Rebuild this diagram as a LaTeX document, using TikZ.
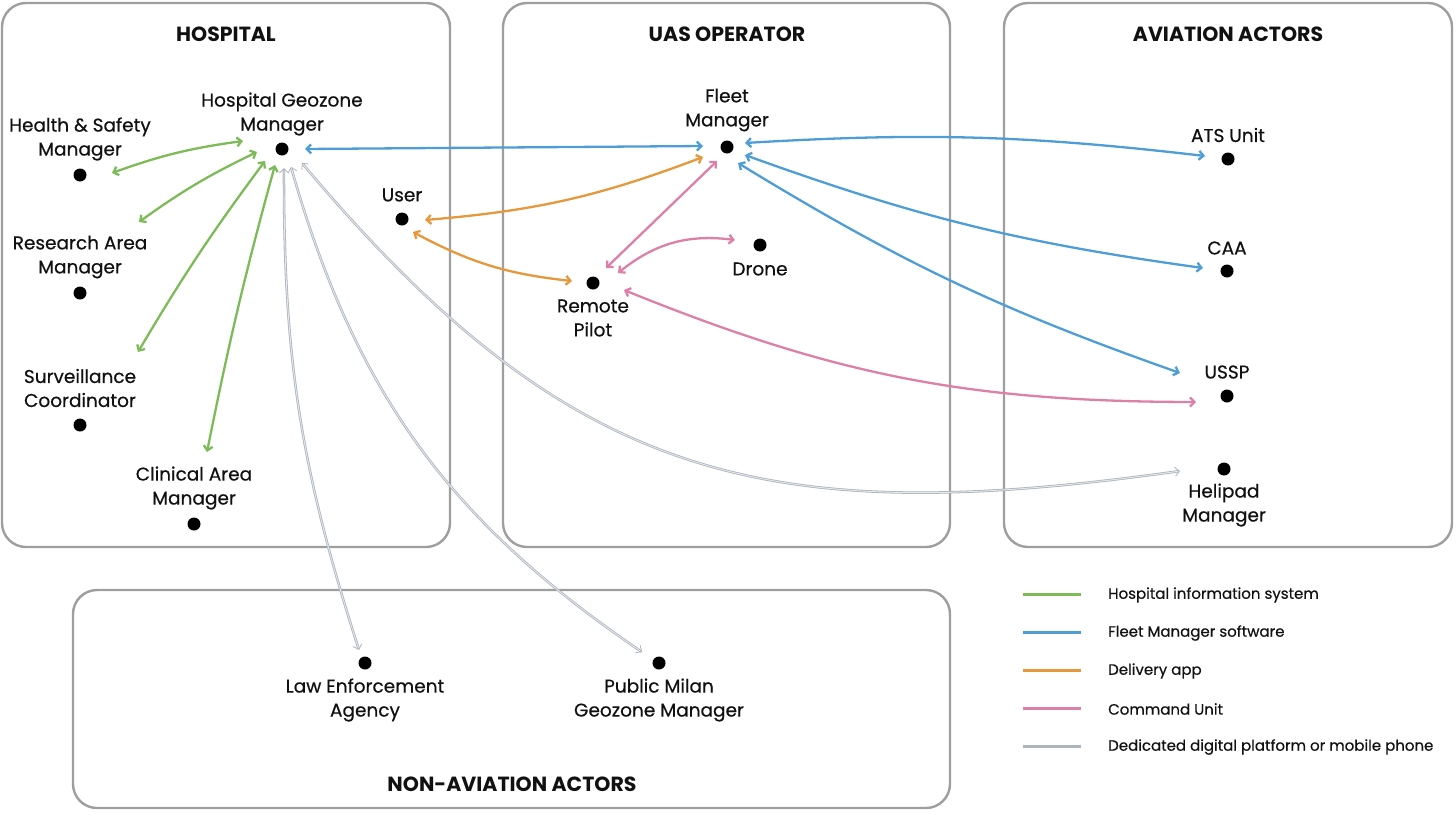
\documentclass[tikz,border=0pt]{standalone}
\usepackage{fontspec}
\setmainfont{Poppins}[UprightFeatures={FakeBold=0.5}]
\usetikzlibrary{arrows.meta,calc}
\definecolor{grn}{RGB}{124,187,88}
\definecolor{blu}{RGB}{78,157,214}
\definecolor{org}{RGB}{230,152,60}
\definecolor{pnk}{RGB}{221,128,168}
\definecolor{gry}{RGB}{172,180,188}
\definecolor{gryin}{RGB}{228,232,236}
\definecolor{boxc}{RGB}{158,158,158}
\definecolor{txt}{RGB}{17,17,17}
\begin{document}
\begin{tikzpicture}[x=1pt,y=1pt,
  box/.style={draw=boxc, line width=2.4pt, rounded corners=24pt},
  dot/.style={circle, fill=black, inner sep=0pt, minimum size=13pt},
  lbl/.style={font=\fontsize{18.5}{24}\selectfont, text=txt, align=center, inner sep=0pt},
  ttl/.style={font=\fontsize{20.5}{24}\selectfont\bfseries, text=txt, inner sep=0pt},
  lgd/.style={font=\fontsize{15}{17}\selectfont, text=txt, anchor=west, inner sep=0pt},
  tipb/.tip={Straight Barb[length=4.5pt,width=9pt]},
  conn/.style={line width=2.3pt, tipb-tipb},
  cg/.style={conn, draw=grn},
  cb/.style={conn, draw=blu},
  co/.style={conn, draw=org},
  cp/.style={conn, draw=pnk},
  cy/.style={conn, draw=gry, double=gryin, double distance=0.9pt, line width=0.8pt},
  lgline/.style={line width=3pt},
]
\useasboundingbox (0,0) rectangle (1456,-814);

% boxes
\draw[box] (2,-3) rectangle (450,-547);
\draw[box] (503,-3) rectangle (950,-547);
\draw[box] (1004,-3) rectangle (1452,-547);
\draw[box] (73,-590) rectangle (950,-808);

% titles
\node[ttl] (tH) at (226,-34) {HOSPITAL};
\node[ttl] (tU) at (727,-34) {UAS OPERATOR};
\node[ttl] (tA) at (1228,-34) {AVIATION ACTORS};
\node[ttl] (tN) at (512,-784) {NON-AVIATION ACTORS};

% dots
\node[dot] (hgm) at (282,-149) {};
\node[dot] (hs) at (80,-175) {};
\node[dot] (ra) at (80,-293) {};
\node[dot] (sc) at (80,-425) {};
\node[dot] (ca) at (194,-524) {};
\node[dot] (us) at (402,-219) {};
\node[dot] (fm) at (727,-147) {};
\node[dot] (rp) at (593,-283) {};
\node[dot] (dr) at (760,-245) {};
\node[dot] (ats) at (1228,-159) {};
\node[dot] (caa) at (1227,-271) {};
\node[dot] (ussp) at (1227,-396) {};
\node[dot] (hp) at (1224,-469) {};
\node[dot] (le) at (365,-663) {};
\node[dot] (pm) at (659,-663) {};

% labels
\node[lbl] (hgmL) at (282,-114) {Hospital Geozone\\Manager};
\node[lbl] (hsL) at (80,-139) {Health \& Safety\\Manager};
\node[lbl] (raL) at (80,-257) {Research Area\\Manager};
\node[lbl] (scL) at (80,-388) {Surveillance\\Coordinator};
\node[lbl] (caL) at (194,-488) {Clinical Area\\Manager};
\node[lbl] (usL) at (402,-195) {User};
\node[lbl] (fmL) at (727,-110) {Fleet\\Manager};
\node[lbl] (rpL) at (593,-318) {Remote\\Pilot};
\node[lbl] (drL) at (760,-269) {Drone};
\node[lbl] (atsL) at (1228,-135) {ATS Unit};
\node[lbl] (caaL) at (1227,-248) {CAA};
\node[lbl] (usspL) at (1227,-372) {USSP};
\node[lbl] (hpL) at (1224,-505) {Helipad\\Manager};
\node[lbl] (leL) at (365,-700) {Law Enforcement\\Agency};
\node[lbl] (pmL) at (659,-700) {Public Milan\\Geozone Manager};

% connector ends
\coordinate (hgm-hs) at (243,-141);
\coordinate (hgm-ra) at (257,-152);
\coordinate (hgm-sc) at (265,-161);
\coordinate (hgm-ca) at (275,-165);
\coordinate (hgm-fm) at (305,-149);
\coordinate (hgm-le) at (284,-168);
\coordinate (hgm-pm) at (291,-167);
\coordinate (hgm-hp) at (302,-163);
\coordinate (hs-e) at (112,-173);
\coordinate (ra-e) at (139,-222);
\coordinate (sc-e) at (138,-352);
\coordinate (ca-e) at (207,-452);
\coordinate (fm-hgm) at (703,-146);
\coordinate (fm-ats) at (745,-143);
\coordinate (fm-caa) at (745,-155);
\coordinate (fm-us) at (738,-163);
\coordinate (fm-user) at (703,-157);
\coordinate (fm-rp) at (717,-161);
\coordinate (ats-e) at (1205,-156);
\coordinate (caa-e) at (1203,-268);
\coordinate (ussp-fm) at (1180,-373);
\coordinate (ussp-rp) at (1196,-402);
\coordinate (user-fm) at (425,-220);
\coordinate (user-rp) at (413,-232);
\coordinate (rp-user) at (572,-281);
\coordinate (rp-fm) at (606,-268);
\coordinate (rp-dr) at (618,-273);
\coordinate (rp-us) at (624,-290);
\coordinate (dr-e) at (735,-240);
\coordinate (le-e) at (359,-650);
\coordinate (pm-e) at (642,-652);
\coordinate (hp-e) at (1180,-471);

% gray
\draw[cy] (hgm-le) to[bend right=9] (le-e);
\draw[cy] (hgm-pm) to[bend right=20] (pm-e);
\draw[cy] (hgm-hp) to[out=-50,in=188,looseness=1.15] (hp-e);

% green
\draw[cg] (hs-e) to[bend left=6] (hgm-hs);
\draw[cg] (ra-e) to[bend left=5] (hgm-ra);
\draw[cg] (sc-e) to[bend left=3] (hgm-sc);
\draw[cg] (ca-e) to[bend left=2] (hgm-ca);

% blue
\draw[cb] (hgm-fm) -- (fm-hgm);
\draw[cb] (fm-ats) to[bend left=5] (ats-e);
\draw[cb] (fm-caa) to[bend right=6] (caa-e);
\draw[cb] (fm-us) to[bend right=6] (ussp-fm);

% orange
\draw[co] (user-fm) to[bend right=8] (fm-user);
\draw[co] (user-rp) to[bend right=11] (rp-user);

% pink
\draw[cp] (fm-rp) -- (rp-fm);
\draw[cp] (rp-dr) to[bend left=23] (dr-e);
\draw[cp] (rp-us) to[bend right=11] (ussp-rp);

% legend
\foreach \i/\c/\t in {0/grn/Hospital information system,1/blu/Fleet Manager software,2/org/Delivery app,3/pnk/Command Unit,4/gry/Dedicated digital platform or mobile phone}{
  \coordinate (lga\i) at (1023,-594-38*\i);
  \coordinate (lgb\i) at (1081,-594-38*\i);
  \draw[lgline, draw=\c] (lga\i) -- (lgb\i);
  \node[lgd] (lgt\i) at (1108,-595-38*\i) {\t};
}
\end{tikzpicture}
\end{document}
